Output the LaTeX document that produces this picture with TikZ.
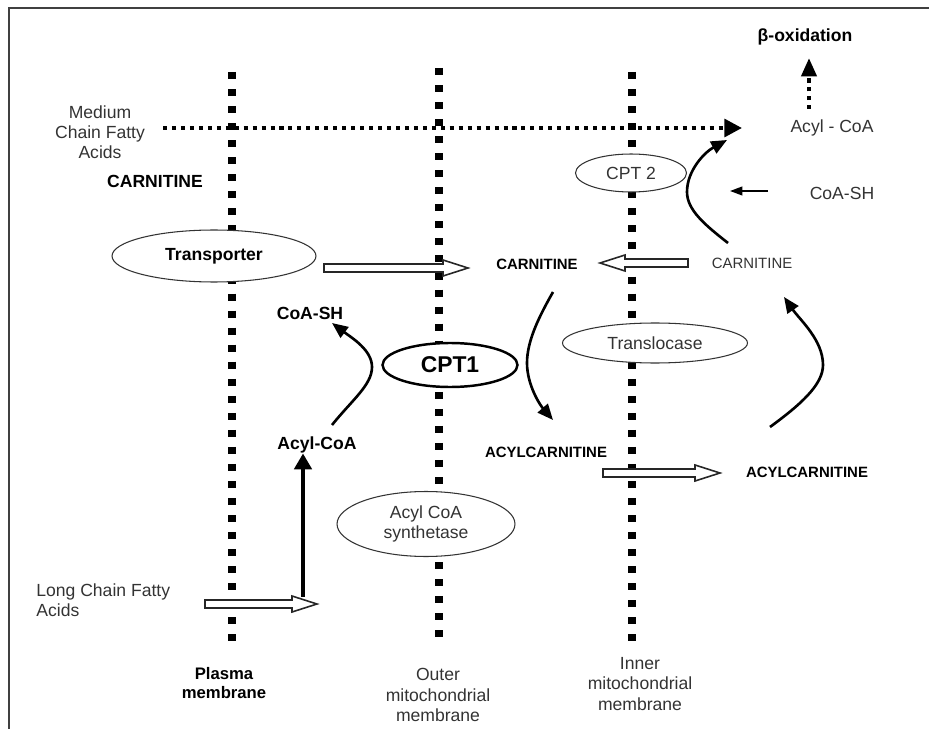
\documentclass[tikz,border=0pt]{standalone}
\usepackage{fontspec}
\setmainfont{Liberation Sans}
\usetikzlibrary{arrows.meta,shapes.geometric}

\tikzset{
  membrane/.style={line width=4pt, dash pattern=on 4pt off 5.7pt},
  enzyme/.style={ellipse, draw=black!80, fill=white, inner sep=0pt, line width=0.6pt,
    text=black!80, align=center, font=\fontsize{10}{11.5}\selectfont},
  lbl/.style={text=black!80, inner sep=0pt, align=center, font=\fontsize{10}{11.5}\selectfont},
  blbl/.style={inner sep=0pt, align=center, font=\bfseries\fontsize{10}{11}\selectfont},
  slbl/.style={inner sep=0pt, font=\bfseries\fontsize{8.5}{10}\selectfont},
  curvy/.style={line width=1.5pt, -{Triangle[length=9pt,width=7.5pt]}},
  hollow/.style={draw=black!85, fill=white, line width=0.9pt},
}

% block arrow: tail x, head base x, tip x, y
\newcommand{\hollowarrow}[4]{%
  \draw[hollow] (#1,#4-4) -- (#2,#4-4) -- (#2,#4-8) -- (#3,#4) -- (#2,#4+8)
    -- (#2,#4+4) -- (#1,#4+4) -- cycle;}

\begin{document}
\begin{tikzpicture}[x=0.02cm, y=-0.02cm]
  \useasboundingbox (0,0) rectangle (929,729);
  % Frame
  \draw[line width=1.1pt, black!75] (9,729) -- (9,8) -- (929,8);
  % Membranes
  \draw[membrane] (232,72) -- (232,645);
  \draw[membrane] (439,68) -- (439,640);
  \draw[membrane] (632,72) -- (632,645);
  % Enzymes
  \node[enzyme, minimum width=4.08cm, minimum height=1.04cm] (transporter) at (214,256)
    {\textbf{\color{black}Transporter}};
  \node[enzyme, draw=black, line width=1.4pt, minimum width=2.7cm, minimum height=0.88cm,
    font=\bfseries\fontsize{13}{15}\selectfont, text=black] (cpt1) at (450,365) {CPT1};
  \node[enzyme, minimum width=2.22cm, minimum height=0.76cm] (cpt2) at (631,173) {CPT 2};
  \node[enzyme, minimum width=3.7cm, minimum height=0.8cm] (transl) at (655,343) {Translocase};
  \node[enzyme, minimum width=3.56cm, minimum height=1.3cm] (synth) at (426,524)
    {Acyl CoA\\synthetase};
  % Labels
  \node[blbl] (boxid) at (805,37) {β-oxidation};
  \node[lbl] (mcfa) at (100,132) {Medium\\Chain Fatty\\Acids};
  \node[blbl] (carnout) at (155,181) {CARNITINE};
  \node[lbl] (acylcoa) at (832,128) {Acyl - CoA};
  \node[lbl] (coashR) at (842,193) {CoA-SH};
  \node[slbl] (carnmid) at (537,264) {CARNITINE};
  \node[slbl, font=\fontsize{8.5}{10}\selectfont, text=black!80] (carnin) at (752,263) {CARNITINE};
  \node[blbl] (coashL) at (310,313) {CoA-SH};
  \node[blbl] (acylcoaL) at (317,445) {Acyl-CoA};
  \node[slbl] (acmid) at (546,452) {ACYLCARNITINE};
  \node[slbl] (acin) at (807,472) {ACYLCARNITINE};
  \node[lbl, align=left, anchor=west] (lcfa) at (36,600) {Long Chain Fatty\\Acids};
  \node[blbl, font=\bfseries\fontsize{9.5}{11}\selectfont] (plasma) at (224,683)
    {Plasma\\membrane};
  \node[lbl] (outer) at (438,695) {Outer\\mitochondrial\\membrane};
  \node[lbl] (inner) at (640,684) {Inner\\mitochondrial\\membrane};
  % Arrow ends
  \coordinate (mcfaend) at (163,128);
  \coordinate (mcfatip) at (742,128);
  \coordinate (oxbot) at (809,109);
  \coordinate (oxtip) at (809,58);
  \coordinate (coashend) at (768,191);
  \coordinate (coashtip) at (730,191);
  \coordinate (c1a) at (332,425);
  \coordinate (c1b) at (332,323);
  \coordinate (c2a) at (553,292);
  \coordinate (c2b) at (553,420);
  \coordinate (c3a) at (770,427);
  \coordinate (c3b) at (784,297);
  \coordinate (c4a) at (728,243);
  \coordinate (c4b) at (727,140);
  % Dotted arrows
  \draw[line width=2.3pt, dash pattern=on 2.3pt off 2.8pt,
    -{Triangle[length=10pt,width=10pt]}] (mcfaend) -- (mcfatip);
  \draw[line width=2.4pt, dash pattern=on 2.4pt off 2.6pt,
    -{Triangle[length=10.5pt,width=8.5pt]}] (oxbot) -- (oxtip);
  % Curved arrows
  \draw[curvy] (c1a) .. controls (352,400) and (372,385) .. (372,367)
    .. controls (372,350) and (352,338) .. (c1b);
  \draw[curvy] (c2a) .. controls (540,315) and (527,340) .. (527,363)
    .. controls (527,385) and (540,405) .. (c2b);
  \draw[curvy] (c3a) .. controls (800,405) and (823,385) .. (823,365)
    .. controls (823,340) and (800,320) .. (c3b);
  \draw[curvy] (c4a) .. controls (705,225) and (687,210) .. (687,192)
    .. controls (687,170) and (705,152) .. (c4b);
  % Straight arrows
  \draw[line width=0.8pt, -{Triangle[length=7pt,width=5pt]}] (coashend) -- (coashtip);
  \draw[line width=1.8pt, -{Triangle[length=9pt,width=10pt]}] (303,597) -- (acylcoaL.south -| 303,0);
  % Block arrows
  \hollowarrow{324}{443}{468}{268}
  \hollowarrow{688}{625}{600}{263}
  \hollowarrow{603}{695}{720}{473}
  \hollowarrow{205}{292}{317}{604}
\end{tikzpicture}
\end{document}
